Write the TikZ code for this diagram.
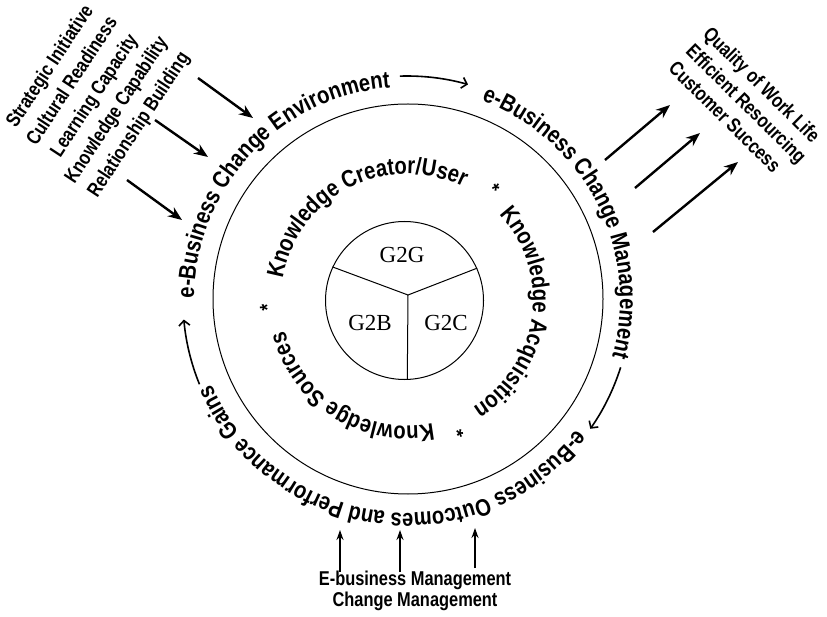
\documentclass[tikz,border=0pt]{standalone}
\usepackage{fontspec}
\setmainfont{Liberation Sans}[FakeStretch=0.82]
\newfontfamily\gfont{Liberation Serif}
\newfontfamily\ringsans{Liberation Sans}[FakeStretch=0.84]
\usetikzlibrary{arrows.meta,decorations.text}

\newcommand\ringfont{\ringsans\bfseries\fontsize{24}{24}\selectfont}

\begin{document}
\begin{tikzpicture}[x=1pt,y=1pt,
  ringtext/.style={decorate,decoration={text along path,text align=center}},
  ringarrow/.style={line width=1.6pt,-{Straight Barb[length=5pt,width=11pt]}},
  bigarrow/.style={line width=2.4pt,-{Stealth[length=14pt,width=11pt]}},
  uparrow/.style={line width=1.6pt,-{Stealth[length=10pt,width=7pt]}},
  listtext/.style={font=\fontsize{20}{26.5}\selectfont\bfseries,inner sep=0pt},
  gtext/.style={font=\fontsize{23}{23}\selectfont\gfont},
  astx/.style={font=\fontsize{21}{21}\selectfont\bfseries,inner sep=0pt}]
  \useasboundingbox (0,0) rectangle (827,-617);
  \coordinate (O) at (407,-300);

  % the two circles and the three sectors
  \node[circle,draw,line width=1pt,minimum size=390pt,inner sep=0pt] (ring) at (408,-299) {};
  \node[circle,draw,line width=1pt,minimum size=158pt,inner sep=0pt] (core) at (404.5,-300.5) {};
  \coordinate (hub) at (408,-295);
  \draw[line width=1pt] (hub) -- (core.155) (hub) -- (core.24) (hub) -- (core.272);
  \node[gtext] (g2g) at (402,-255) {G2G};
  \node[gtext] (g2b) at (370,-323) {G2B};
  \node[gtext] (g2c) at (446,-323) {G2C};

  % inner ring of text (arcs centred on each label)
  \path[ringtext,decoration={text={|\ringfont|Knowledge Creator/User}}]
    ([shift={(186.9:126pt)}]O) arc[start angle=186.9,end angle=46.9,radius=126pt];
  \path[ringtext,decoration={text={|\ringfont|Knowledge Acquisition}}]
    ([shift={(62.25:126pt)}]O) arc[start angle=62.25,end angle=-77.75,radius=126pt];
  \path[ringtext,decoration={text={|\ringfont|Knowledge Sources}}]
    ([shift={(-52:126pt)}]O) arc[start angle=-52,end angle=-192,radius=126pt];
  \node[astx,rotate=-38.4] (ast1) at ([shift={(51.6:140pt)}]O) {*};
  \node[astx,rotate=-158.3] (ast2) at ([shift={(-68.3:140pt)}]O) {*};
  \node[astx,rotate=93.2] (ast3) at ([shift={(183.2:140pt)}]O) {*};

  % outer ring of text
  \path[ringtext,decoration={text={|\ringfont|e-Business Change Environment}}]
    ([shift={(212:213pt)}]O) arc[start angle=212,end angle=62,radius=213pt];
  \path[ringtext,decoration={text={|\ringfont|e-Business Change Management}}]
    ([shift={(102:213pt)}]O) arc[start angle=102,end angle=-48,radius=213pt];
  \path[ringtext,decoration={text={|\ringfont|e-Business Outcomes and Performance Gains}}]
    ([shift={(-7:213pt)}]O) arc[start angle=-7,end angle=-187,radius=213pt];
  \coordinate (t1) at ([shift={(91.8:224pt)}]O);
  \coordinate (t2) at ([shift={(-17.5:224pt)}]O);
  \coordinate (t3) at ([shift={(202.1:224pt)}]O);
  \draw[ringarrow] (t1) arc[start angle=91.8,end angle=74.2,radius=224pt];
  \draw[ringarrow] (t2) arc[start angle=-17.5,end angle=-35.1,radius=224pt];
  \draw[ringarrow] (t3) arc[start angle=202.1,end angle=185,radius=224pt];

  % drivers, results and management
  \node[listtext,align=center,rotate=56.7] (drivers) at (95,-96)
    {Strategic Initiative\\Cultural Readiness\\Learning Capacity\\Knowledge Capability\\Relationship Building};
  \node[listtext,font=\fontsize{20}{24.5}\selectfont\bfseries,align=left,rotate=-44.7] (results) at (746.5,-103.5)
    {Quality of Work Life\\Efficient Resourcing\\Customer Success};
  \node[listtext,font=\fontsize{20}{21}\selectfont\bfseries,align=center] (mgmt) at (415,-591)
    {E-business Management\\Change Management};

  \foreach \i/\s/\e in {1/{198,-78}/{253,-118},2/{155,-120}/{208,-157},3/{127,-180}/{182,-220}} {
    \coordinate (in\i) at (\s);
    \coordinate (to\i) at (\e);
    \draw[bigarrow] (in\i) -- (to\i);
  }
  \foreach \i/\s/\e in {1/{605,-160}/{670,-105},2/{635,-188}/{700,-133},3/{653,-232}/{738,-162}} {
    \coordinate (out\i) at (\s);
    \coordinate (res\i) at (\e);
    \draw[bigarrow] (out\i) -- (res\i);
  }
  \foreach \i/\x/\b/\t in {1/340/-572/-530,2/400/-572/-530,3/475/-568/-528} {
    \coordinate (mb\i) at (\x,\b);
    \coordinate (mt\i) at (\x,\t);
    \draw[uparrow] (mb\i) -- (mt\i);
  }
\end{tikzpicture}
\end{document}
